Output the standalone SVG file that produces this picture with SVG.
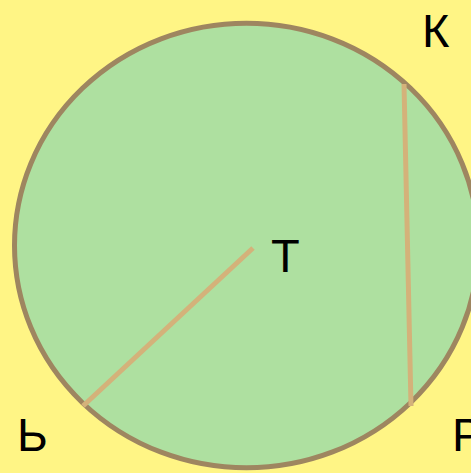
<svg xmlns="http://www.w3.org/2000/svg" width="471" height="473" viewBox="0 0 471 473">
<style>
.lbl{font-family:"Liberation Sans",Arial,sans-serif;font-size:47px;fill:#000}
.seg{stroke:#D4B27A;stroke-width:5;fill:none}
</style>
<rect x="0" y="0" width="471" height="473" fill="#FFF585"/>
<g id="circle">
<ellipse cx="246.5" cy="245.5" rx="232" ry="222.3" fill="#AEE0A0" stroke="#9E8660" stroke-width="5"/>
</g>
<g id="connectors">
<line class="seg" x1="253" y1="248" x2="83" y2="406"/>
<line class="seg" x1="404" y1="84" x2="411" y2="406"/>
</g>
<g id="K"><text class="lbl" x="422" y="47">К</text></g>
<g id="T"><text class="lbl" x="271" y="272">Т</text></g>
<g id="Soft"><text class="lbl" x="17" y="451">Ь</text></g>
<g id="R"><text class="lbl" x="452" y="451">Р</text></g>
</svg>
